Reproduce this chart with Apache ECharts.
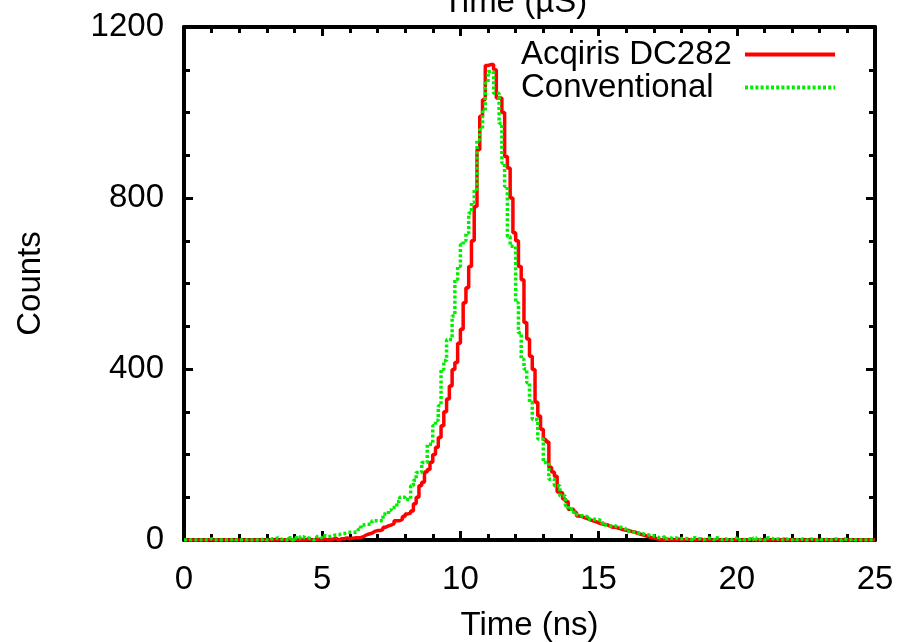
<!DOCTYPE html>
<html><head><meta charset="utf-8">
<script src="https://cdn.jsdelivr.net/npm/echarts@6/dist/echarts.min.js"></script>
<style>html,body{margin:0;padding:0;background:#fff}#c{width:901px;height:642px}</style>
</head><body><div id="c"></div>
<script>
// Histogram bins (left edges start at binStartNs, width binWidthNs, in ns)
const binStartNs = 0;
const binWidthNs = 0.1;
const seriesNames = ['Acqiris DC282', 'Conventional'];
const acqirisCounts = [
  0,0,0,0,0,0,0,0,0,0,
  0,0,0,0,0,0,0,0,0,0,
  0,0,0,0,0,0,0,0,0,0,
  0,0,0,0,0,0,0,2,0,2,
  0,0,0,0,3,0,0,0,2,0,
  3,0,0,2,4,0,3,3,5,3,
  4,5,5,6,8,12,14,16,20,22,
  22,25,30,33,35,38,45,45,48,55,
  61,63,68,85,100,127,135,159,165,182,
  200,217,240,267,300,330,360,399,415,460,
  493,555,590,640,700,780,913,991,1030,1110,
  1112,1112,1100,1034,1034,1000,897,870,800,719,
  700,640,609,509,470,430,399,322,290,259,
  235,229,170,159,149,112,110,96,90,72,
  72,65,56,55,52,50,47,45,43,40,
  38,37,36,33,30,30,28,26,24,23,
  22,20,19,16,14,12,10,8,6,5,
  3,2,0,0,2,0,0,0,2,0,
  0,2,0,0,0,0,2,0,0,0,
  0,0,2,0,0,0,0,0,0,2,
  0,0,0,0,2,0,0,0,0,0,
  0,0,0,0,0,0,2,0,0,0,
  0,0,0,0,0,0,0,0,0,0,
  0,0,0,0,0,0,0,0,0,0,
  0,0,0,0,0,0,0,0,0,0
];
const conventionalCounts = [
  0,0,0,0,0,0,0,0,0,3,
  0,0,0,0,0,0,0,3,0,0,
  0,0,0,0,0,0,0,0,3,0,
  0,3,3,5,3,0,0,0,5,0,
  5,3,8,5,5,3,0,3,8,5,
  10,8,8,10,12,12,15,15,18,18,
  18,18,20,25,35,37,37,37,45,45,
  45,45,61,61,70,76,76,90,100,100,
  95,95,127,140,158,158,181,181,224,224,
  267,280,314,399,420,469,469,524,609,640,
  691,700,718,765,790,820,936,960,1002,1069,
  1096,1096,1045,1045,975,882,827,710,687,687,
  555,485,423,400,368,322,282,282,236,236,
  181,181,142,142,127,127,103,103,80,72,
  72,60,57,57,55,55,49,49,48,48,
  45,40,35,33,33,33,30,30,28,25,
  20,18,18,18,15,15,12,12,10,10,
  8,5,5,8,3,5,3,5,3,3,
  5,3,3,0,5,3,3,0,3,5,
  3,0,5,3,0,3,0,0,3,5,
  0,3,0,0,3,0,5,0,3,0,
  0,5,3,0,3,0,0,3,0,0,
  3,0,0,3,0,0,3,0,0,3,
  0,0,3,0,0,3,0,0,3,0,
  0,3,0,0,0,0,0,0,0,0
];
const xTickValues = [0, 5, 10, 15, 20, 25];
const yTickValues = [0, 400, 800, 1200];
const xAxisName = 'Time (ns)';
const yAxisName = 'Counts';
const topAxisName = 'Time (µS)';

function toSteps(counts) {
  const pts = counts.map((v, i) => [+(binStartNs + i * binWidthNs).toFixed(2), v]);
  pts.push([+(binStartNs + counts.length * binWidthNs).toFixed(2), counts[counts.length - 1]]);
  return pts;
}

const FONT = "'Liberation Sans', Arial, Helvetica, sans-serif";
const FS = 33;
const txt = { color: '#000', fontSize: FS, fontFamily: FONT };
const xMin = xTickValues[0], xMax = xTickValues[xTickValues.length - 1];
const xInt = xTickValues[1] - xTickValues[0];
const yMin = yTickValues[0], yMax = yTickValues[yTickValues.length - 1];
const yInt = yTickValues[1] - yTickValues[0];

const axisLine = { show: true, onZero: false, lineStyle: { color: '#000', width: 4 } };
const majorTick = { show: true, inside: true, length: 9, lineStyle: { color: '#000', width: 3 } };

function xAx(pos, labels) {
  return {
    type: 'value', position: pos, min: xMin, max: xMax, interval: xInt,
    axisLine, axisTick: majorTick,
    minorTick: { show: true, splitNumber: 5, length: 6, lineStyle: { color: '#000', width: 3 } },
    splitLine: { show: false }, minorSplitLine: { show: false },
    axisLabel: Object.assign({ show: labels, margin: 23, formatter: v => String(v) }, txt),
    name: labels ? xAxisName : '', nameLocation: 'middle', nameGap: 69, nameTextStyle: txt
  };
}
function yAx(pos, labels) {
  return {
    type: 'value', position: pos, min: yMin, max: yMax, interval: yInt,
    axisLine, axisTick: majorTick,
    minorTick: { show: true, splitNumber: 4, length: 6, lineStyle: { color: '#000', width: 3 } },
    splitLine: { show: false }, minorSplitLine: { show: false },
    axisLabel: Object.assign({ show: labels, margin: 20, formatter: v => String(v) }, txt),
    name: labels ? yAxisName : '', nameLocation: 'middle', nameGap: 137, nameTextStyle: txt
  };
}

const chart = echarts.init(document.getElementById('c'), null, { renderer: 'canvas' });
chart.setOption({
  animation: false,
  backgroundColor: '#fff',
  grid: { left: 184, right: 26, top: 27, bottom: 102, containLabel: false, outerBoundsMode: 'none' },
  xAxis: [xAx('bottom', true), xAx('top', false)],
  yAxis: [yAx('left', true), yAx('right', false)],
  legend: {
    data: seriesNames, orient: 'vertical', left: 521, top: 38, align: 'right', padding: 0,
    itemWidth: 90, itemHeight: 12, itemGap: 0,
    itemStyle: { opacity: 0 },
    lineStyle: { width: 4 },
    formatter: n => '{t|' + n + '}',
    textStyle: Object.assign({}, txt, { rich: { t: { width: 219, align: 'left', lineHeight: 34, fontSize: FS, fontFamily: FONT, color: '#000' } } })
  },
  graphic: [{
    type: 'text', x: 515, y: 19, silent: true,
    style: { text: topAxisName, fontSize: FS, fontFamily: FONT, fill: '#000', align: 'center', verticalAlign: 'bottom' }
  }],
  series: [
    {
      name: seriesNames[0], type: 'line', step: 'end', xAxisIndex: 0, yAxisIndex: 0,
      data: toSteps(acqirisCounts), symbol: 'none', z: 2,
      lineStyle: { color: '#ff0000', width: 3.5 }, itemStyle: { color: '#ff0000' }
    },
    {
      name: seriesNames[1], type: 'line', step: 'end', xAxisIndex: 0, yAxisIndex: 0,
      data: toSteps(conventionalCounts), symbol: 'none', z: 3,
      lineStyle: { color: '#00ee00', width: 3.5, type: [3, 2.2] }, itemStyle: { color: '#00ee00' }
    }
  ]
});
</script>
</body></html>
